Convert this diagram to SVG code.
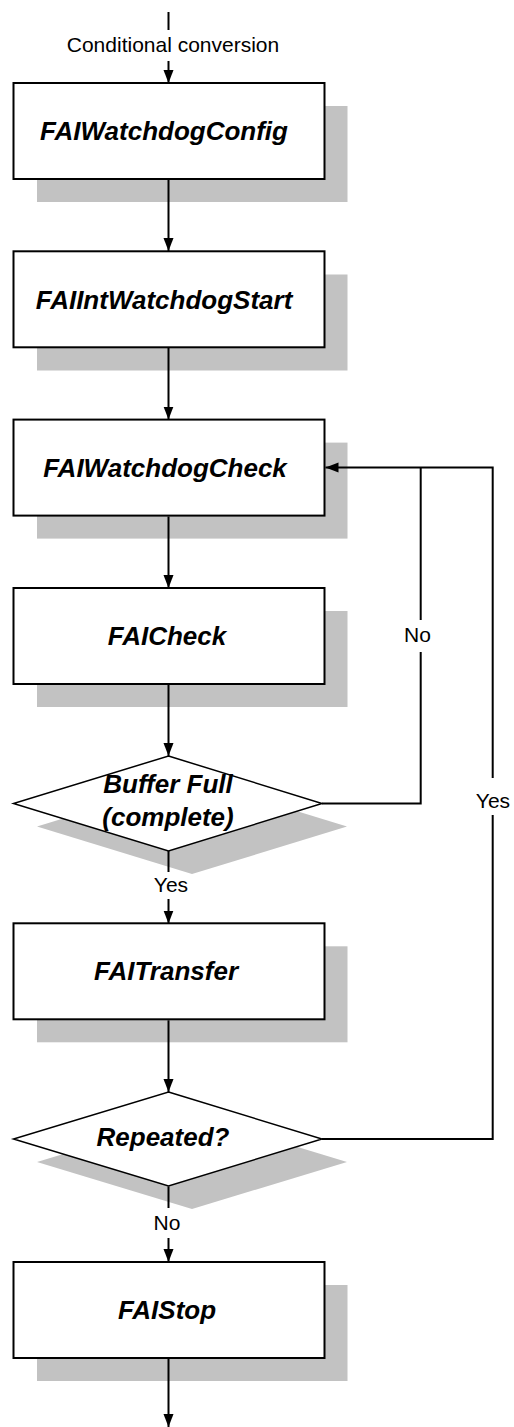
<svg xmlns="http://www.w3.org/2000/svg" width="514" height="1427" viewBox="0 0 514 1427">
<style>
.sh{fill:#c2c2c2;stroke:none}
.bx{fill:#fff;stroke:#000;stroke-width:2}
.dm{fill:#fff;stroke:#000;stroke-width:1.5}
.t{font-family:"Liberation Sans",Arial,sans-serif;font-weight:bold;font-style:italic;font-size:26px;fill:#000;text-anchor:middle}
.l{font-family:"Liberation Sans",Arial,sans-serif;font-size:21px;fill:#000;text-anchor:middle}
.c{fill:none;stroke:#000;stroke-width:2}
</style>
<defs>
<marker id="ah" markerUnits="userSpaceOnUse" markerWidth="14" markerHeight="12" refX="13" refY="6" orient="auto">
<path d="M0,1 L13,6 L0,11 z" fill="#000"/>
</marker>
</defs>
<g id="n1">
<rect class="sh" x="37" y="106" width="310.5" height="96"/>
<rect class="bx" x="13.5" y="83" width="311" height="96"/>
<text class="t" x="164" y="140">FAIWatchdogConfig</text>
</g>
<g id="n2">
<rect class="sh" x="37" y="274.5" width="310.5" height="96"/>
<rect class="bx" x="13.5" y="251.3" width="311" height="96"/>
<text class="t" x="164" y="308.5">FAIIntWatchdogStart</text>
</g>
<g id="n3">
<rect class="sh" x="37" y="442.6" width="310.5" height="96"/>
<rect class="bx" x="13.5" y="419.6" width="311" height="96"/>
<text class="t" x="165" y="476.5">FAIWatchdogCheck</text>
</g>
<g id="n4">
<rect class="sh" x="37" y="611" width="310.5" height="96"/>
<rect class="bx" x="13.5" y="588" width="311" height="96"/>
<text class="t" x="167" y="645">FAICheck</text>
</g>
<g id="n5">
<polygon class="sh" points="192,779 347,826.5 192,874 37,826.5"/>
<polygon class="dm" points="168.5,756 322,803.5 168.5,851 13.5,803.5"/>
<text class="t" x="168" y="793">Buffer Full</text>
<text class="t" x="168" y="826">(complete)</text>
</g>
<g id="n6">
<rect class="sh" x="37" y="946.3" width="310.5" height="96"/>
<rect class="bx" x="13.5" y="923.3" width="311" height="96"/>
<text class="t" x="166" y="980">FAITransfer</text>
</g>
<g id="n7">
<polygon class="sh" points="192,1115 347,1162 192,1209 37,1162"/>
<polygon class="dm" points="168.5,1092 322,1139 168.5,1186 13.5,1139"/>
<text class="t" x="163" y="1146">Repeated?</text>
</g>
<g id="n8">
<rect class="sh" x="37" y="1285" width="310.5" height="96"/>
<rect class="bx" x="13.5" y="1262" width="311" height="96"/>
<text class="t" x="167" y="1319">FAIStop</text>
</g>
<g id="connectors">
<line class="c" x1="168.5" y1="12" x2="168.5" y2="30"/>
<line class="c" x1="168.5" y1="61" x2="168.5" y2="83" marker-end="url(#ah)"/>
<line class="c" x1="168.5" y1="180" x2="168.5" y2="251" marker-end="url(#ah)"/>
<line class="c" x1="168.5" y1="348" x2="168.5" y2="419.5" marker-end="url(#ah)"/>
<line class="c" x1="168.5" y1="516.5" x2="168.5" y2="588" marker-end="url(#ah)"/>
<line class="c" x1="168.5" y1="685" x2="168.5" y2="756" marker-end="url(#ah)"/>
<line class="c" x1="168.5" y1="851" x2="168.5" y2="872"/>
<line class="c" x1="168.5" y1="899" x2="168.5" y2="923.5" marker-end="url(#ah)"/>
<line class="c" x1="168.5" y1="1020.3" x2="168.5" y2="1092" marker-end="url(#ah)"/>
<line class="c" x1="168.5" y1="1186.5" x2="168.5" y2="1208"/>
<line class="c" x1="168.5" y1="1238" x2="168.5" y2="1262" marker-end="url(#ah)"/>
<line class="c" x1="168.5" y1="1359" x2="168.5" y2="1427" marker-end="url(#ah)"/>
<polyline class="c" points="322,803.5 420.7,803.5 420.7,652"/>
<line class="c" x1="420.7" y1="620" x2="420.7" y2="467.5"/>
<polyline class="c" points="322,1139 492.7,1139 492.7,815"/>
<polyline class="c" points="492.7,778 492.7,467.5 325.5,467.5" marker-end="url(#ah)"/>
<text class="l" x="173" y="52">Conditional conversion</text>
<text class="l" x="417.5" y="642">No</text>
<text class="l" x="493" y="808">Yes</text>
<text class="l" x="171" y="892">Yes</text>
<text class="l" x="167" y="1230">No</text>
</g>
</svg>
